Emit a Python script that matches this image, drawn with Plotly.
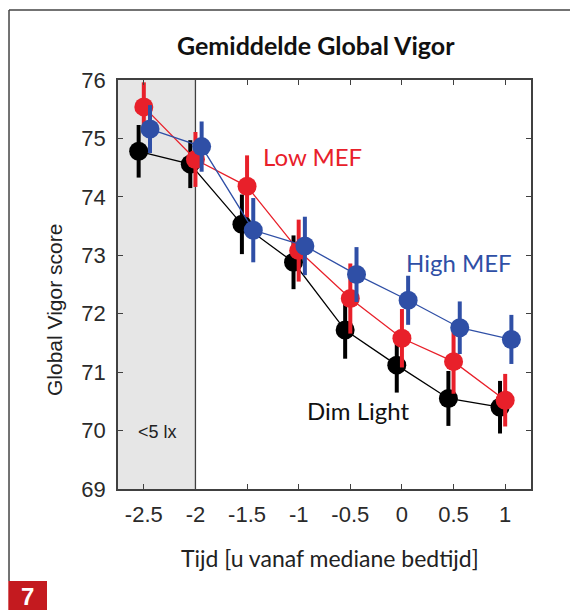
import plotly.graph_objects as go

x_vals = [-2.5, -2, -1.5, -1, -0.5, 0, 0.5, 1]
dim_light = [74.78, 74.56, 73.53, 72.88, 71.72, 71.12, 70.55, 70.40]
dim_err = [0.45, 0.41, 0.51, 0.46, 0.49, 0.47, 0.47, 0.45]
low_mef = [75.54, 74.64, 74.18, 73.08, 72.26, 71.58, 71.18, 70.52]
low_err = [0.42, 0.47, 0.53, 0.53, 0.60, 0.50, 0.55, 0.45]
high_mef = [75.16, 74.86, 73.43, 73.16, 72.67, 72.23, 71.76, 71.56]
high_err = [0.41, 0.43, 0.55, 0.50, 0.47, 0.42, 0.45, 0.42]
x_ticks = [-2.5, -2, -1.5, -1, -0.5, 0, 0.5, 1]
x_tick_text = ["-2.5", "-2", "-1.5", "-1", "-0.5", "0", "0.5", "1"]
y_ticks = [69, 70, 71, 72, 73, 74, 75, 76]

series = [
    ("Dim Light", dim_light, dim_err, "#000000", -0.05),
    ("Low MEF", low_mef, low_err, "#e8202a", 0.0),
    ("High MEF", high_mef, high_err, "#2f4fa6", 0.06),
]

fig = go.Figure()
for name, vals, errs, col, off in series:
    fig.add_trace(go.Scatter(
        x=[v + off for v in x_vals], y=vals, mode="lines+markers", name=name,
        line=dict(color=col, width=1.3),
        marker=dict(color=col, size=19, line=dict(width=0)),
        error_y=dict(type="data", array=errs, visible=True, color=col,
                     thickness=4, width=0),
        showlegend=False,
    ))

axis_col = "#404040"


def ann(text, x, y, size, color, family="Lato, Open Sans", ref="paper", angle=0):
    return dict(text=text, x=x, y=y, xref="paper" if ref == "paper" else "x",
                yref="paper" if ref == "paper" else "y", showarrow=False,
                xanchor="center", yanchor="middle", textangle=angle,
                font=dict(family=family, size=size, color=color))


fig.update_layout(
    width=570, height=602,
    margin=dict(l=110, r=47, t=72, b=121),
    paper_bgcolor="white", plot_bgcolor="white",
    font=dict(family="Liberation Sans, Arial", color="#333333"),
    xaxis=dict(range=[-2.75, 1.25], tickvals=x_ticks, ticktext=x_tick_text,
               ticks="inside", ticklen=5, tickcolor=axis_col, tickwidth=1.3,
               showline=True, linecolor=axis_col, linewidth=1.5, mirror="ticks",
               showgrid=False, zeroline=False,
               tickfont=dict(size=22, color="#2a2a2a"), ticklabelstandoff=5),
    yaxis=dict(range=[69, 76], tickvals=y_ticks,
               ticks="inside", ticklen=5, tickcolor=axis_col, tickwidth=1.3,
               showline=True, linecolor=axis_col, linewidth=1.5, mirror="ticks",
               showgrid=False, zeroline=False,
               tickfont=dict(size=22, color="#2a2a2a"), ticklabelstandoff=6),
    shapes=[
        dict(type="rect", xref="x", yref="y", x0=-2.75, x1=-2, y0=69, y1=76,
             fillcolor="#e6e6e6", line=dict(width=0), layer="below"),
        dict(type="line", xref="x", yref="y", x0=-2, x1=-2, y0=69, y1=76,
             line=dict(color=axis_col, width=1.3), layer="below"),
        dict(type="line", xref="paper", yref="paper", x0=-0.2639, x1=1.12,
             y0=1.1711, y1=1.1711, line=dict(color="#444444", width=1.5)),
        dict(type="line", xref="paper", yref="paper", x0=-0.2639, x1=-0.2639,
             y0=1.1711, y1=-0.2249, line=dict(color="#444444", width=1.5)),
        dict(type="rect", xref="paper", yref="paper", x0=-0.2656, x1=-0.1719,
             y0=-0.2249, y1=-0.30, fillcolor="#c41a1f", line=dict(width=0)),
    ],
    annotations=[
        ann("<b>Gemiddelde Global Vigor</b>", 0.479, 1.0856, 25, "#111111"),
        ann("Global Vigor score", -0.1525, 0.4377, 21, "#222222",
            family="Liberation Sans, Arial", angle=-90),
        ann("Tijd [u vanaf mediane bedtijd]", 0.513, -0.1687, 23, "#222222"),
        ann("Low MEF", -0.871, 74.69, 24, "#e8202a", ref="data"),
        ann("High MEF", 0.553, 72.88, 24, "#2f4fa6", ref="data"),
        ann("Dim Light", -0.426, 70.35, 24, "#111111", ref="data"),
        ann("&lt;5 lx", -2.372, 69.98, 18, "#222222",
            family="Liberation Sans, Arial", ref="data"),
        ann("<b>7</b>", -0.218, -0.262, 24, "white",
            family="Liberation Sans, Arial"),
    ],
)

fig.write_html("out.html")
